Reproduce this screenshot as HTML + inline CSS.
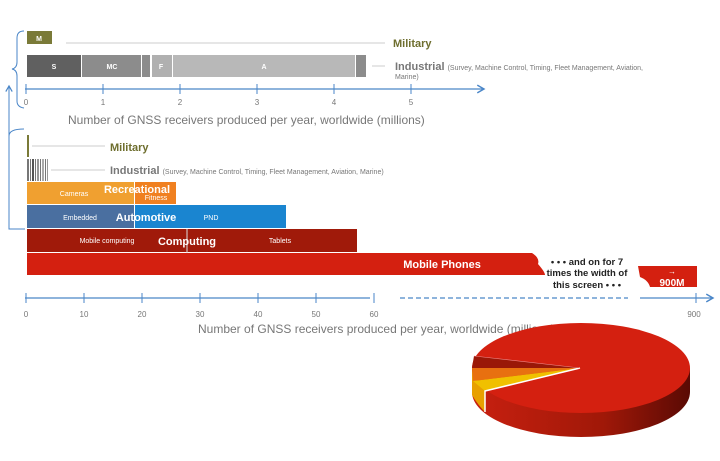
<!DOCTYPE html>
<html><head><meta charset="utf-8"><style>
body{margin:0;background:#fff;}
svg{display:block;font-family:"Liberation Sans",sans-serif;}
</style></head><body>
<svg width="720" height="461" viewBox="0 0 720 461">
<defs>
<linearGradient id="side" x1="0" x2="1" y1="0" y2="0">
<stop offset="0" stop-color="#c82010"/><stop offset="0.6" stop-color="#a01808"/><stop offset="1" stop-color="#5a0a04"/>
</linearGradient>
<marker id="ar" viewBox="0 0 10 10" refX="8" refY="5" markerWidth="8" markerHeight="8" orient="auto"><path d="M1 1 L8 5 L1 9" fill="none" stroke="#4a86c8" stroke-width="1.5"/></marker>
</defs>
<path d="M24 31 Q17 31 17 38 L17 62 Q17 68 12 69 Q17 70 17 76 L17 101 Q17 107 24 108" fill="none" stroke="#4a86c8" stroke-width="1"/>
<rect x="27" y="31" width="25" height="13" fill="#7a7a38"/>
<text x="39" y="41" font-size="7" fill="#fff" text-anchor="middle" font-weight="bold">M</text>
<line x1="66" y1="43" x2="385" y2="43" stroke="#ccc"/>
<text x="393" y="47" font-size="11" font-weight="bold" fill="#6e6e2e">Military</text>
<rect x="27" y="55" width="54" height="22" fill="#606060"/>
<rect x="82" y="55" width="59" height="22" fill="#8c8c8c"/>
<rect x="142" y="55" width="8" height="22" fill="#8c8c8c"/>
<rect x="152" y="55" width="20" height="22" fill="#b0b0b0"/>
<rect x="173" y="55" width="182" height="22" fill="#b8b8b8"/>
<rect x="356" y="55" width="10" height="22" fill="#8c8c8c"/>
<g font-size="7" fill="#fff" text-anchor="middle" font-weight="bold">
<text x="54" y="69">S</text><text x="112" y="69">MC</text><text x="161" y="69">F</text><text x="264" y="69">A</text></g>
<line x1="372" y1="66" x2="385" y2="66" stroke="#ccc"/>
<text x="395" y="70" font-size="11" font-weight="bold" fill="#777">Industrial <tspan font-size="7" font-weight="normal">(Survey, Machine Control, Timing, Fleet Management, Aviation,</tspan></text>
<text x="395" y="79" font-size="7" fill="#777">Marine)</text>
<line x1="25" y1="89" x2="484" y2="89" stroke="#4a86c8" stroke-width="1.2" marker-end="url(#ar)"/>
<g stroke="#4a86c8"><line x1="26" y1="84" x2="26" y2="94"/><line x1="103" y1="84" x2="103" y2="94"/><line x1="180" y1="84" x2="180" y2="94"/><line x1="257" y1="84" x2="257" y2="94"/><line x1="334" y1="84" x2="334" y2="94"/><line x1="411" y1="84" x2="411" y2="94"/></g>
<g font-size="8" fill="#777" text-anchor="middle"><text x="26" y="105">0</text><text x="103" y="105">1</text><text x="180" y="105">2</text><text x="257" y="105">3</text><text x="334" y="105">4</text><text x="411" y="105">5</text></g>
<text x="68" y="124" font-size="12" fill="#777">Number of GNSS receivers produced per year, worldwide (millions)</text>
<path d="M24 129 Q9 129 9 136 L9 229 L25 229" fill="none" stroke="#4a86c8"/>
<line x1="9" y1="145" x2="9" y2="86" stroke="#4a86c8" marker-end="url(#ar)"/>
<rect x="27" y="135" width="2" height="22" fill="#7a7a38"/>
<line x1="32" y1="146" x2="105" y2="146" stroke="#ccc"/>
<text x="110" y="151" font-size="11" font-weight="bold" fill="#6e6e2e">Military</text>
<g fill="#777"><rect x="27" y="159" width="2" height="22"/><rect x="30" y="159" width="1" height="22"/><rect x="32" y="159" width="2" height="22" fill="#555"/><rect x="35" y="159" width="1" height="22"/><rect x="37" y="159" width="2" height="22" fill="#999"/><rect x="40" y="159" width="1" height="22"/><rect x="42" y="159" width="2" height="22" fill="#aaa"/><rect x="45" y="159" width="1" height="22"/><rect x="47" y="159" width="1" height="22" fill="#999"/></g>
<line x1="51" y1="170" x2="105" y2="170" stroke="#ccc"/>
<text x="110" y="174" font-size="11" font-weight="bold" fill="#777">Industrial <tspan font-size="7" font-weight="normal">(Survey, Machine Control, Timing, Fleet Management, Aviation, Marine)</tspan></text>
<rect x="27" y="182" width="107" height="22" fill="#f0a030"/>
<rect x="135" y="182" width="41" height="22" fill="#f08020"/>
<text x="74" y="196" font-size="7" fill="#fff" text-anchor="middle">Cameras</text>
<text x="156" y="200" font-size="7" fill="#fff" text-anchor="middle">Fitness</text>
<text x="137" y="193" font-size="11" font-weight="bold" fill="#fff" text-anchor="middle">Recreational</text>
<rect x="27" y="205" width="107" height="23" fill="#4a6fa0"/>
<rect x="135" y="205" width="151" height="23" fill="#1a85d0"/>
<text x="80" y="220" font-size="7" fill="#fff" text-anchor="middle">Embedded</text>
<text x="211" y="220" font-size="7" fill="#fff" text-anchor="middle">PND</text>
<text x="146" y="221" font-size="11" font-weight="bold" fill="#fff" text-anchor="middle">Automotive</text>
<rect x="27" y="229" width="330" height="23" fill="#a01a0a"/>
<line x1="187" y1="229" x2="187" y2="253" stroke="#ddd"/>
<text x="107" y="243" font-size="7" fill="#fff" text-anchor="middle">Mobile computing</text>
<text x="280" y="243" font-size="7" fill="#fff" text-anchor="middle">Tablets</text>
<text x="187" y="245" font-size="11" font-weight="bold" fill="#fff" text-anchor="middle">Computing</text>
<path d="M27 253 L532 253 Q540 258 538 264 Q545 272 545 275 L27 275 Z" fill="#d42010"/>
<text x="442" y="268" font-size="11" font-weight="bold" fill="#fff" text-anchor="middle">Mobile Phones</text>
<g font-size="9.5" fill="#222" text-anchor="middle" font-weight="bold"><text x="587" y="265">• • • and on for 7</text><text x="587" y="276">times the width of</text><text x="587" y="288">this screen • • •</text></g>
<path d="M638 266 L697 266 L697 287 L650 287 Q648 280 640 277 Z" fill="#d42010"/>
<text x="672" y="274" font-size="8" fill="#fff" text-anchor="middle">→</text>
<text x="672" y="286" font-size="10" font-weight="bold" fill="#fff" text-anchor="middle">900M</text>
<line x1="25" y1="298" x2="370" y2="298" stroke="#4a86c8" stroke-width="1.2"/>
<line x1="400" y1="298" x2="628" y2="298" stroke="#4a86c8" stroke-width="1.2" stroke-dasharray="5,3"/>
<line x1="640" y1="298" x2="713" y2="298" stroke="#4a86c8" stroke-width="1.2" marker-end="url(#ar)"/>
<g stroke="#4a86c8"><line x1="26" y1="293" x2="26" y2="303"/><line x1="84" y1="293" x2="84" y2="303"/><line x1="142" y1="293" x2="142" y2="303"/><line x1="200" y1="293" x2="200" y2="303"/><line x1="258" y1="293" x2="258" y2="303"/><line x1="316" y1="293" x2="316" y2="303"/><line x1="374" y1="293" x2="374" y2="303"/><line x1="696" y1="293" x2="696" y2="303"/></g>
<g font-size="8" fill="#777" text-anchor="middle"><text x="26" y="317">0</text><text x="84" y="317">10</text><text x="142" y="317">20</text><text x="200" y="317">30</text><text x="258" y="317">40</text><text x="316" y="317">50</text><text x="374" y="317">60</text><text x="694" y="317">900</text></g>
<text x="198" y="333" font-size="12" fill="#777">Number of GNSS receivers produced per year, worldwide (millions)</text>
<!-- pie -->
<path d="M472 368 L472 392 A109 45 0 0 0 690 392 L690 368 Z" fill="url(#side)"/>
<path d="M472 368 L472 395 Q478 405 485 412 L485 388 Z" fill="#e8a000"/>
<ellipse cx="581" cy="368" rx="109" ry="45" fill="#d42010"/>
<path d="M580 368 L474 356 L472 368 Z" fill="#9a1808"/>
<path d="M580 368 L472 368 L473 381 Z" fill="#e87010"/>
<path d="M580 368 L473 381 L485 391 Z" fill="#f0c000"/>
<path d="M580 368 L485 391 L485 412" fill="none" stroke="#fff" stroke-width="1.5"/>
<line x1="474" y1="356" x2="580" y2="368" stroke="#e88" stroke-width="0.6"/>
</svg>
</body></html>
